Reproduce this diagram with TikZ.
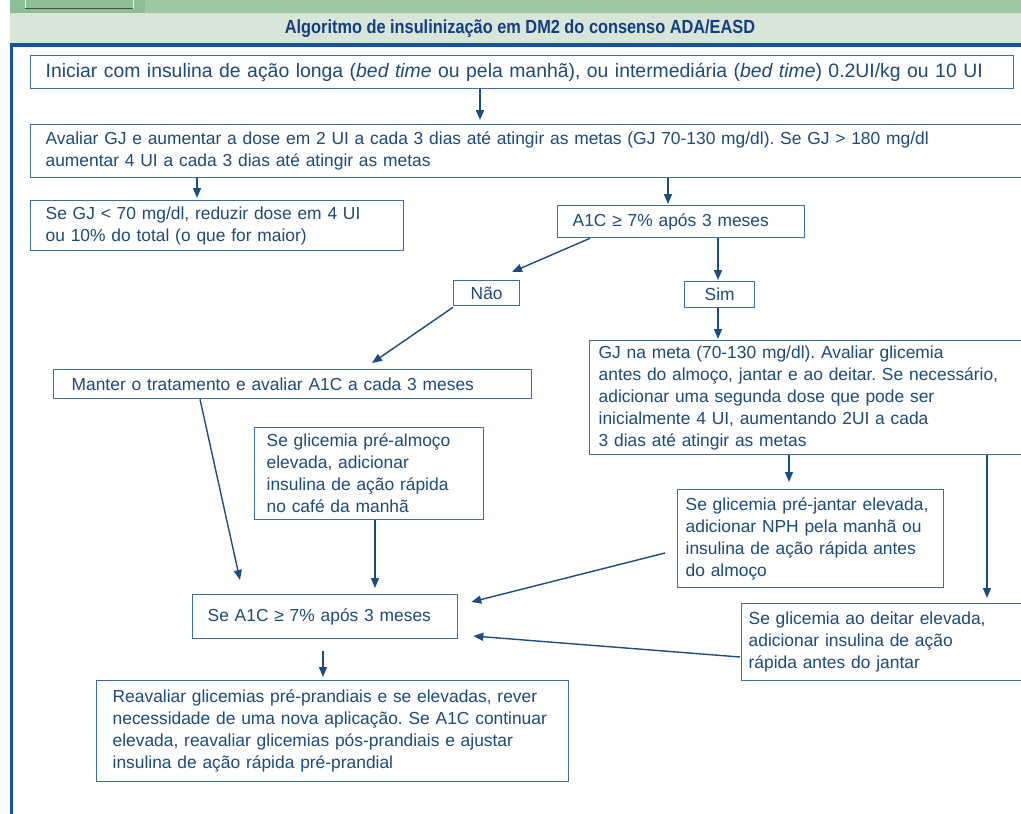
\documentclass[tikz,border=0pt]{standalone}
\usepackage{fontspec}
\setmainfont{Liberation Sans}
\newfontfamily\titlefont[FakeStretch=0.86]{Liberation Sans}
\usetikzlibrary{arrows.meta,positioning,calc}
\definecolor{boxblue}{RGB}{62,110,158}
\definecolor{txtblue}{RGB}{30,74,122}
\definecolor{arrowblue}{RGB}{28,76,128}
\definecolor{frameblue}{RGB}{24,84,152}
\definecolor{titleblue}{RGB}{22,60,130}
\definecolor{bandgreen}{RGB}{158,199,166}
\definecolor{patchgreen}{RGB}{141,190,148}
\definecolor{bandlight}{RGB}{215,230,217}
\frenchspacing

\begin{document}
\begin{tikzpicture}[x=1pt, y=-1pt,
    box/.style={draw=boxblue, line width=1.3pt, fill=white, anchor=north west, align=left,
      inner xsep=#1, inner ysep=0pt, text=txtblue, font=\fontsize{17.4}{22}\selectfont},
    box/.default=15pt,
    arr/.style={draw=arrowblue, line width=1.4pt, -{Triangle[length=10pt,width=8pt]}}]
    \useasboundingbox (0,0) rectangle (1021,814);
    \clip (0,0) rectangle (1021,814);
    % faixa do topo
    \fill[bandgreen] (10,0) rectangle (1021,13);
    \fill[patchgreen] (10,0) rectangle (145,13);
    \filldraw[fill=patchgreen, draw=white!85!gray] (25,-2) rectangle (133,8);
    \draw[black!70, line width=1pt] (25,8) -- (133,8);
    \fill[bandlight] (10,13) rectangle (1021,43);
    \node[font=\titlefont\bfseries\fontsize{19}{22}\selectfont, text=titleblue] (titulo) at (520,29)
      {Algoritmo de insulinização em DM2 do consenso ADA/EASD};
    \fill[frameblue] (10,43) rectangle (1021,47);
    \fill[frameblue] (10,43) rectangle (13,814);

    % caixas
    \node[box, minimum width=983pt, minimum height=33pt, text width=953pt,
      font=\fontsize{19.4}{22}\selectfont] (init) at (30,55)
      {Iniciar com insulina de ação longa (\textit{bed time} ou pela manhã), ou intermediária (\textit{bed time}) 0.2UI/kg ou 10 UI};
    \node[box, minimum width=1000pt, minimum height=53pt, text width=970pt] (avaliar) at (30,124)
      {Avaliar GJ e aumentar a dose em 2 UI a cada 3 dias até atingir as metas (GJ 70-130 mg/dl). Se GJ > 180 mg/dl\\
       aumentar 4 UI a cada 3 dias até atingir as metas};
    \node[box, minimum width=373pt, minimum height=50pt, text width=343pt] (gjbaixa) at (30,200)
      {Se GJ < 70 mg/dl, reduzir dose em 4 UI\\ ou 10\% do total (o que for maior)};
    \node[box, minimum width=247pt, minimum height=32pt, text width=217pt] (hba) at (557,205)
      {A1C ≥ 7\% após 3 meses};
    \node[box=0pt, minimum width=66pt, minimum height=25pt] (nao) at (453,280) {Não};
    \node[box=0pt, minimum width=70pt, minimum height=26pt] (sim) at (684,281) {Sim};
    \node[box=18pt, minimum width=478pt, minimum height=29pt, text width=442pt] (manter) at (53,369)
      {Manter o tratamento e avaliar A1C a cada 3 meses};
    \node[box=9pt, minimum width=460pt, minimum height=114pt, text width=442pt] (meta) at (589,340)
      {GJ na meta (70-130 mg/dl). Avaliar glicemia\\ antes do almoço, jantar e ao deitar. Se necessário,\\
       adicionar uma segunda dose que pode ser\\ inicialmente 4 UI, aumentando 2UI a cada\\ 3 dias até atingir as metas};
    \node[box=12pt, minimum width=229pt, minimum height=92pt, text width=205pt] (prealmoco) at (254,427)
      {Se glicemia pré-almoço\\ elevada, adicionar\\ insulina de ação rápida\\ no café da manhã};
    \node[box=8pt, minimum width=266pt, minimum height=98pt, text width=250pt] (prejantar) at (677,489)
      {Se glicemia pré-jantar elevada,\\ adicionar NPH pela manhã ou\\ insulina de ação rápida antes\\ do almoço};
    \node[box, minimum width=265pt, minimum height=44pt, text width=235pt] (hbadois) at (192,594)
      {Se A1C ≥ 7\% após 3 meses};
    \node[box=7pt, minimum width=300pt, minimum height=77pt, text width=286pt] (deitar) at (741,603)
      {Se glicemia ao deitar elevada,\\ adicionar insulina de ação\\ rápida antes do jantar};
    \node[box=16pt, minimum width=472pt, minimum height=101pt, text width=440pt] (reavaliar) at (96,680)
      {Reavaliar glicemias pré-prandiais e se elevadas, rever\\ necessidade de uma nova aplicação. Se A1C continuar\\
       elevada, reavaliar glicemias pós-prandiais e ajustar\\ insulina de ação rápida pré-prandial};

    % setas
    \draw[arr] ($(init.south west)+(450,0)$) -- ($(avaliar.north west)+(450,-4)$);
    \draw[arr] ($(avaliar.south west)+(167,0)$) -- ($(gjbaixa.north west)+(167,-2)$);
    \draw[arr] ($(avaliar.south west)+(638,0)$) -- ($(hba.north west)+(111,-1)$);
    \draw[arr] ($(hba.south west)+(33,0)$) -- ($(nao.north west)+(59,-8)$);
    \draw[arr] ($(hba.south west)+(161,0)$) -- ($(sim.north west)+(34,-1)$);
    \draw[arr] ($(nao.south west)+(0,1)$) -- ($(manter.north west)+(319,-6)$);
    \draw[arr] ($(sim.south west)+(34,0)$) -- ($(meta.north west)+(129,-1)$);
    \draw[arr] ($(manter.south west)+(147,0)$) -- ($(hbadois.north west)+(48,-14)$);
    \draw[arr] ($(prealmoco.south west)+(121,0)$) -- ($(hbadois.north west)+(183,-6)$);
    \draw[arr] ($(meta.south west)+(200,0)$) -- ($(prejantar.north west)+(112,-7)$);
    \draw[arr] ($(meta.south west)+(398,0)$) -- ($(deitar.north west)+(246,-5)$);
    \draw[arr] ($(prejantar.north west)+(-12,64)$) -- ($(hbadois.north east)+(13,8)$);
    \draw[arr] ($(deitar.north west)+(-1,54)$) -- ($(hbadois.north east)+(15,42)$);
    \draw[arr] ($(hbadois.south west)+(131,12)$) -- ($(reavaliar.north west)+(227,-3)$);
\end{tikzpicture}
\end{document}
